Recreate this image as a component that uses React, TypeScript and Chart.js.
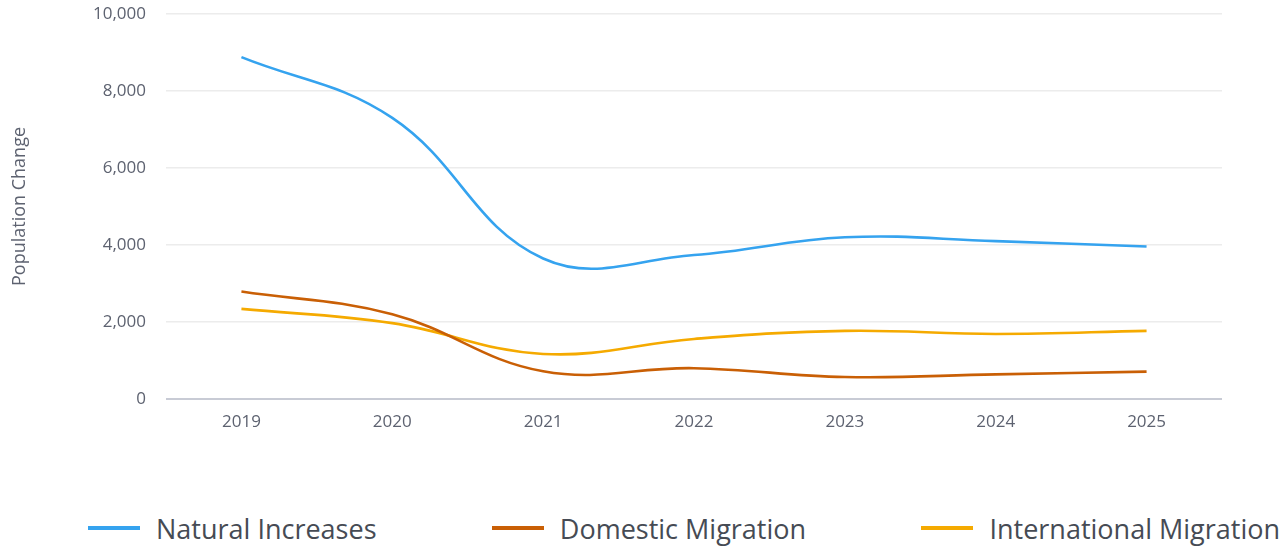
import React, { useEffect, useRef } from 'react';
import { Chart, registerables } from 'chart.js';

Chart.register(...registerables);

const years = ['2019', '2020', '2021', '2022', '2023', '2024', '2025'];
const naturalIncreases = [8880, 7300, 3650, 3740, 4200, 4100, 3960];
const domesticMigration = [2790, 2200, 720, 800, 570, 640, 710];
const internationalMigration = [2340, 1970, 1170, 1560, 1770, 1690, 1770];
const seriesNames = ['Natural Increases', 'Domestic Migration', 'International Migration'];
const seriesColors = ['#35a3ef', '#c95f05', '#f5aa00'];
const yTicks = [0, 2000, 4000, 6000, 8000, 10000];

const FONT = '"Open Sans", Lato, sans-serif';
const TICK_COLOR = '#5d6270';

export default function App() {
  const ref = useRef<HTMLCanvasElement>(null);

  useEffect(() => {
    if (!ref.current) return;
    const values = [naturalIncreases, domesticMigration, internationalMigration];
    const chart = new Chart(ref.current, {
      type: 'line',
      data: {
        labels: years,
        datasets: values.map((v, i) => ({
          label: seriesNames[i],
          data: v,
          borderColor: seriesColors[i],
          backgroundColor: seriesColors[i],
          borderWidth: 2.6,
          pointRadius: 0,
          pointHoverRadius: 0,
          tension: 0.4,
          fill: false,
        })),
      },
      options: {
        responsive: false,
        animation: false,
        locale: 'en-US',
        layout: { padding: { top: 0, right: 66, bottom: 0, left: 0 } },
        plugins: {
          legend: { display: false },
          tooltip: { enabled: false },
        },
        scales: {
          x: {
            offset: true,
            grid: { display: false, drawTicks: false },
            border: { display: false },
            ticks: { color: TICK_COLOR, font: { family: FONT, size: 17 }, padding: 13 },
            afterFit: (s: any) => { s.height = 51; },
          },
          y: {
            min: 0,
            max: 10000,
            afterBuildTicks: (s: any) => { s.ticks = yTicks.map((v) => ({ value: v })); },
            grid: {
              drawTicks: false,
              color: (c: any) => (c.tick && c.tick.value === 0 ? '#c8cbd5' : '#ececec'),
              lineWidth: (c: any) => (c.tick && c.tick.value === 0 ? 2 : 1.6),
            },
            border: { display: false },
            ticks: {
              color: TICK_COLOR,
              font: { family: FONT, size: 17 },
              padding: 20,
              callback: (v: any) => Number(v).toLocaleString('en-US'),
            },
            title: {
              display: true,
              text: 'Population Change',
              color: TICK_COLOR,
              font: { family: FONT, size: 18 },
              padding: { top: 9, bottom: 0 },
            },
            afterFit: (s: any) => { s.width = 166; s.paddingTop = 14; s.paddingBottom = 10; },
          },
        },
      },
    });
    return () => chart.destroy();
  }, []);

  return (
    <div style={{ position: 'absolute', left: 0, top: 0, width: 1288, height: 548, background: '#fff', overflow: 'hidden' }}>
      <canvas ref={ref} width={1288} height={450} style={{ display: 'block', width: 1288, height: 450 }} />
      <div
        style={{
          position: 'absolute',
          left: 88,
          top: 510,
          width: 1192,
          height: 36,
          display: 'flex',
          justifyContent: 'space-between',
          alignItems: 'center',
          fontFamily: FONT,
          fontSize: 27,
          color: '#464b54',
          whiteSpace: 'nowrap',
        }}
      >
        {seriesNames.map((name, i) => (
          <div key={name} style={{ display: 'flex', alignItems: 'center' }}>
            <span style={{ display: 'inline-block', width: 52, height: 4, background: seriesColors[i], marginRight: 16 }} />
            <span>{name}</span>
          </div>
        ))}
      </div>
    </div>
  );
}
